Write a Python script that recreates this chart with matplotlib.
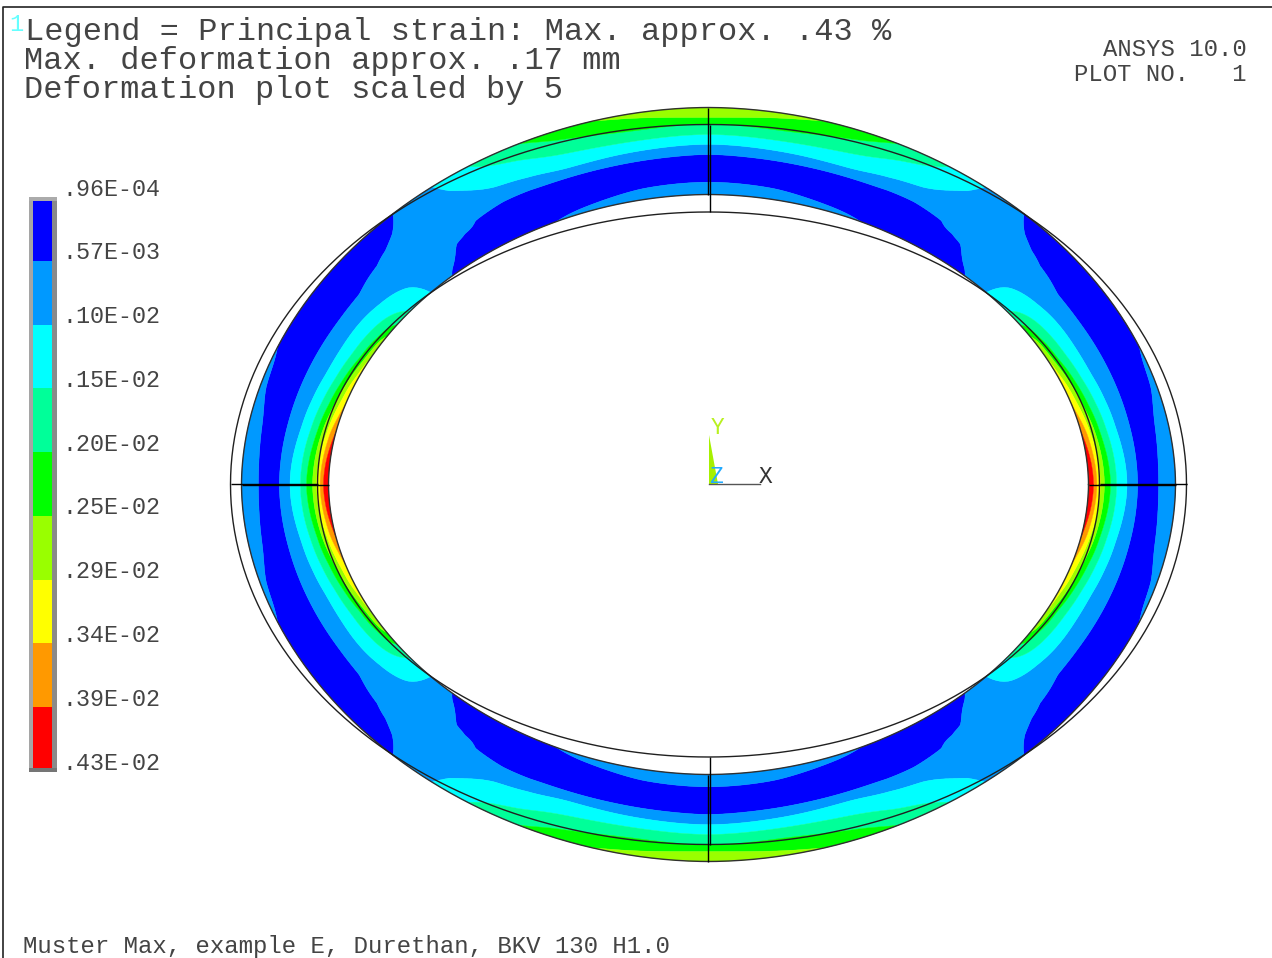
import numpy as np
import matplotlib
matplotlib.use("Agg")
import matplotlib.pyplot as plt
from matplotlib.patches import Rectangle, Polygon

# ---- data ----
LEVELS = [0.96e-4, 0.57e-3, 0.10e-2, 0.15e-2, 0.20e-2, 0.25e-2, 0.29e-2, 0.34e-2, 0.39e-2, 0.43e-2]
LEVEL_LABELS = [".96E-04", ".57E-03", ".10E-02", ".15E-02", ".20E-02",
                ".25E-02", ".29E-02", ".34E-02", ".39E-02", ".43E-02"]
BAND_COLORS = ["#0000FF", "#0099FF", "#00FFFF", "#00FF99", "#00FF00",
               "#99FF00", "#FFFF00", "#FF9900", "#FF0000"]

# strain across the ring wall (0 inner, 1 outer) at stations around one quadrant.
# Values are in units of legend steps: 1 = LEVELS[1], 2 = LEVELS[2], ...
ANGLES = [0, 10, 15, 20, 25, 30, 35, 40, 42.5, 45, 47.5, 50, 52.5, 55, 60, 65, 70, 80, 90]
PROFILE_S = [
    [0, .058, .097, .136, .183, .253, .323, .443, .564, .68, .805, 1],
    [0, .06, .10, .155, .21, .29, .40, .56, .7, .85, 1],
    [0, .01, .07, .12, .18, .265, .38, .56, .73, .93, 1],
    [0, .045, .09, .15, .235, .355, .56, .75, 1],
    [0, .01, .055, .11, .21, .35, .56, .8, 1],
    [0, .03, .08, .19, .35, .56, .8, 1],
    [0, .12, .315, .57, .8, 1],
    [0, .22, .655, 1],
    [0, .3, .72, 1],
    [0, .45, .82, 1],
    [0, .06, .3, .6, 1],
    [0, .28, .6, 1],
    [0, .33, .75, 1],
    [0, .40, .855, 1],
    [0, .2, .45, .65, .93, 1],
    [0, .2, .45, .6, .82, 1],
    [0, .05, .25, .44, .55, .725, .9, 1],
    [0, .125, .28, .445, .56, .68, .80, .95, 1],
    [0, .142, .3, .46, .577, .69, .81, .885, 1],
]
PROFILE_V = [
    [9.3, 8, 7, 6, 5, 4, 3, 2, 1, .6, 1, 1.55],
    [8.1, 7, 6, 5, 4, 3, 2, 1, .6, 1, 1.35],
    [7.15, 7, 6, 5, 4, 3, 2, 1, .62, 1, 1.2],
    [6.6, 6, 5, 4, 3, 2, 1, .65, 1.05],
    [6.05, 6, 5, 4, 3, 2, 1, .72, .9],
    [5.4, 5, 4, 3, 2, 1, .7, .85],
    [3.6, 3, 2, 1, .75, .8],
    [2.4, 2, 1, .7],
    [2.0, 1.7, 1, .75],
    [1.15, 1.45, 1, .85],
    [.95, 1, 1.25, 1.4, 1.05],
    [.88, 1, 1.45, 1.55],
    [.86, 1, 1.7, 1.95],
    [.85, 1, 2, 2.2],
    [.8, .6, 1, 2, 3, 3.3],
    [.95, .5, 1, 2, 3, 3.9],
    [1.15, 1, .4, 1, 2, 3, 4, 4.5],
    [1.3, 1, .4, 1, 2, 3, 4, 5, 5.35],
    [1.35, 1, .4, 1, 2, 3, 4, 5, 5.9],
]

TITLE_LINES = ["Legend = Principal strain: Max. approx. .43 %",
               "Max. deformation approx. .17 mm",
               "Deformation plot scaled by 5"]
FOOTER = "Muster Max, example E, Durethan, BKV 130 H1.0"

# ---- geometry (pixels) ----
CX, CY = 708.5, 484.5
DEF_IN, DEF_OUT = (380.0, 290.0), (467.0, 377.0)
UND_IN, UND_OUT = (391.0, 272.5), (478.0, 360.0)
FLAT = 0.014
TEXT = "#444444"

plt.rcParams["font.family"] = ["Liberation Mono", "DejaVu Sans Mono"]
fig = plt.figure(figsize=(12.72, 9.58), dpi=100)
ax = fig.add_axes([0, 0, 1, 1])
ax.set_xlim(0, 1272)
ax.set_ylim(958, 0)
ax.axis("off")


def deformed(t_deg, s):
    t = np.radians(t_deg)
    a = DEF_IN[0] + (DEF_OUT[0] - DEF_IN[0]) * s
    b = DEF_IN[1] + (DEF_OUT[1] - DEF_IN[1]) * s
    r = 1 - FLAT * np.abs(np.sin(2 * t)) ** 1.5
    return CX + a * r * np.cos(t), CY - b * r * np.sin(t)


def smooth_curve(nodes, vals, q):
    """Cubic Hermite curve through the stations; level at both ends (symmetry)."""
    m = np.zeros_like(vals)
    m[1:-1] = (vals[2:] - vals[:-2]) / (nodes[2:] - nodes[:-2])
    i = np.clip(np.searchsorted(nodes, q, side="right") - 1, 0, len(nodes) - 2)
    h = nodes[i + 1] - nodes[i]
    u = (q - nodes[i]) / h
    return ((2 * u**3 - 3 * u**2 + 1) * vals[i] + (u**3 - 2 * u**2 + u) * h * m[i]
            + (-2 * u**3 + 3 * u**2) * vals[i + 1] + (u**3 - u**2) * h * m[i + 1])


# ---- contour field ----
s_axis = np.linspace(0, 1, 301)
t_axis = np.arange(0, 360.25, 0.5)
folded = np.degrees(np.arcsin(np.abs(np.sin(np.radians(t_axis)))))
nodes = np.array(ANGLES, dtype=float)
stations = np.array([np.interp(s_axis, ps, pv) for ps, pv in zip(PROFILE_S, PROFILE_V)])
field = np.array([smooth_curve(nodes, stations[:, j], folded) for j in range(len(s_axis))])
# light periodic smoothing around the ring removes kinks at the stations
win = np.bartlett(13)[1:-1]
win = win / win.sum()
pad = len(win)
for j in range(field.shape[0]):
    row = field[j, :-1]
    wrapped = np.concatenate([row[-pad:], row, row[:pad]])
    smooth = np.convolve(wrapped, win, mode="same")[pad:-pad]
    field[j, :-1] = smooth
    field[j, -1] = smooth[0]
field = np.clip(field, 0.05, 8.99)
strain = np.interp(field, np.arange(len(LEVELS)), LEVELS)

T, S = np.meshgrid(t_axis, s_axis)
X, Y = deformed(T, S)
cs = ax.contourf(X, Y, strain, levels=LEVELS, colors=BAND_COLORS, antialiased=True, zorder=2)
cs.set_edgecolor("face")
cs.set_linewidth(0.3)

# ---- outlines ----
tt = np.linspace(0, 360, 721)
for s in (0.0, 1.0):
    xd, yd = deformed(tt, s)
    ax.plot(xd, yd, color="#303030", lw=1.0, zorder=3)
for a, b in (UND_IN, UND_OUT):
    ax.plot(CX + a * np.cos(np.radians(tt)), CY - b * np.sin(np.radians(tt)),
            color="#202020", lw=1.0, zorder=4)

# section lines at the quarter points: deformed and undeformed side by side
for sign in (1, -1):
    ax.plot([CX + sign * DEF_IN[0], CX + sign * DEF_OUT[0]], [CY + 0.6, CY + 0.6],
            color="black", lw=1.0, zorder=5, solid_capstyle="butt")
    ax.plot([CX + sign * UND_IN[0], CX + sign * UND_OUT[0]], [CY - 0.6, CY - 0.6],
            color="black", lw=1.0, zorder=5, solid_capstyle="butt")
    ax.plot([CX - 0.2, CX - 0.2], [CY - sign * DEF_IN[1], CY - sign * DEF_OUT[1]],
            color="black", lw=1.0, zorder=5, solid_capstyle="butt")
    ax.plot([CX + 1.0, CX + 1.0], [CY - sign * UND_IN[1], CY - sign * UND_OUT[1]],
            color="black", lw=1.0, zorder=5, solid_capstyle="butt")

# ---- legend bar ----
bar_top, step = 197.0, 63.75
ax.add_patch(Rectangle((29, 197), 28, 575, facecolor="#A5A5A5", edgecolor="none", zorder=1))
ax.add_patch(Rectangle((52, 197), 5, 575, facecolor="#8A8A8A", edgecolor="none", zorder=1))
ax.bar([42.5] * len(BAND_COLORS), [step] * len(BAND_COLORS), width=19,
       bottom=[bar_top + step * i for i in range(len(BAND_COLORS))],
       color=BAND_COLORS, edgecolor="none", zorder=2)
ax.add_patch(Rectangle((29, 197), 28, 4, facecolor="#ABABAB", edgecolor="none", zorder=3))
ax.add_patch(Rectangle((29, 768), 28, 4, facecolor="#757575", edgecolor="none", zorder=3))
for i, lab in enumerate(LEVEL_LABELS):
    ax.text(62, 189 + (763 - 189) / 9 * i, lab, fontsize=16.8, color=TEXT,
            ha="left", va="center", zorder=6)

# ---- texts ----
for line, x, y in zip(TITLE_LINES, (25, 24, 24), (40, 69, 98)):
    ax.text(x, y, line, fontsize=23.05, color=TEXT, ha="left", va="baseline", zorder=6)
ax.text(9, 31, "1", fontsize=17, color="#66FFFF", ha="left", va="baseline", zorder=6)
ax.text(1247, 56, "ANSYS 10.0", fontsize=17.2, color=TEXT, ha="right", va="baseline", zorder=6)
ax.text(1247, 81, "PLOT NO.   1", fontsize=17.2, color=TEXT, ha="right", va="baseline", zorder=6)
ax.text(23, 953, FOOTER, fontsize=17.3, color=TEXT, ha="left", va="baseline", zorder=6)

# ---- triad ----
ax.add_patch(Polygon([(709.3, 435), (709.3, 484), (718, 484)], closed=True,
                     facecolor="#A6F000", edgecolor="none", zorder=3))
ax.plot([709, 760], [484, 484], color="#555555", lw=1.0, zorder=4)
ax.text(717.5, 428, "Y", fontsize=16.5, color="#B8F020", ha="center", va="center", zorder=6)
ax.text(765.5, 476, "X", fontsize=16.5, color="#333333", ha="center", va="center", zorder=6)
ax.text(716.5, 476, "Z", fontsize=16.5, color="#22AAFF", ha="center", va="center", zorder=6)

# ---- window border ----
ax.plot([2.5, 2.5, 1272], [958, 6.5, 6.5], color="#222222", lw=1.2, zorder=7)

fig.savefig("out.png", dpi=100)
